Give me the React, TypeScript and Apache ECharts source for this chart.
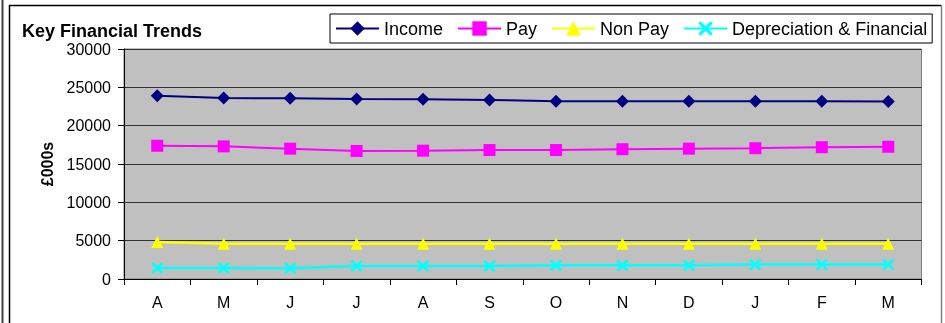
import React, { useEffect, useRef } from "react";
import * as echarts from "echarts";

const categories = ["A", "M", "J", "J", "A", "S", "O", "N", "D", "J", "F", "M"];
const income = [23900, 23600, 23560, 23480, 23430, 23350, 23200, 23200, 23200, 23200, 23200, 23150];
const pay = [17380, 17300, 17000, 16700, 16740, 16820, 16820, 16930, 17000, 17060, 17190, 17250];
const nonPay = [4840, 4600, 4600, 4600, 4600, 4600, 4600, 4600, 4600, 4600, 4600, 4600];
const depreciation = [1420, 1420, 1410, 1690, 1690, 1700, 1780, 1780, 1800, 1900, 1900, 1900];
const yTicks = { min: 0, max: 30000, interval: 5000 };

const FONT = "'Liberation Sans', Arial, sans-serif";
const CROSS = "path://M1.5,0 L5,3.5 L8.5,0 L10,1.5 L6.5,5 L10,8.5 L8.5,10 L5,6.5 L1.5,10 L0,8.5 L3.5,5 L0,1.5 Z";

export default function App() {
  const ref = useRef<HTMLDivElement>(null);
  useEffect(() => {
    document.body.style.margin = "0";
    const chart = echarts.init(ref.current!, null, { renderer: "svg" });
    const mk = (name: string, data: number[], color: string, symbol: string, size: number | number[], width: number) => ({
      name,
      type: "line",
      data,
      symbol,
      symbolSize: size,
      lineStyle: { color, width },
      itemStyle: { color },
      emphasis: { disabled: true },
    });
    chart.setOption({
      animation: false,
      graphic: [
        { type: "line", shape: { x1: 2.5, y1: 0, x2: 2.5, y2: 323 }, style: { stroke: "#404040", lineWidth: 2 } },
        { type: "line", shape: { x1: 9, y1: 5.5, x2: 941, y2: 5.5 }, style: { stroke: "#000", lineWidth: 1.5 } },
        { type: "line", shape: { x1: 9.5, y1: 5, x2: 9.5, y2: 323 }, style: { stroke: "#000", lineWidth: 1.5 } },
        { type: "line", shape: { x1: 941.5, y1: 5, x2: 941.5, y2: 323 }, style: { stroke: "#808080", lineWidth: 1.5 } },
        {
          type: "text",
          x: 22,
          y: 30.5,
          style: { text: "Key Financial Trends", font: `bold 18px ${FONT}`, fill: "#000", verticalAlign: "middle" },
        },
      ],
      legend: {
        left: 330,
        top: 14,
        padding: [5.5, 5],
        itemGap: 14,
        itemWidth: 43,
        itemHeight: 18,
        backgroundColor: "#fff",
        borderColor: "#000",
        borderWidth: 1,
        textStyle: { fontSize: 18, fontFamily: FONT, color: "#000" },
        selectedMode: false,
      },
      grid: {
        left: 124,
        right: 23.5,
        top: 49,
        bottom: 44,
        show: true,
        backgroundColor: "#C0C0C0",
        borderColor: "#808080",
        borderWidth: 1,
      },
      xAxis: {
        type: "category",
        data: categories,
        boundaryGap: true,
        axisLine: { lineStyle: { color: "#000", width: 1 } },
        axisTick: { show: true, length: 6, interval: 0, lineStyle: { color: "#000" } },
        axisLabel: { fontSize: 16, fontFamily: FONT, color: "#000", margin: 15, interval: 0 },
        splitLine: { show: false },
      },
      yAxis: {
        type: "value",
        min: yTicks.min,
        max: yTicks.max,
        interval: yTicks.interval,
        name: "£000s",
        nameLocation: "middle",
        nameRotate: 90,
        nameGap: 67,
        nameTextStyle: { fontSize: 16, fontWeight: "bold", fontFamily: FONT, color: "#000" },
        axisLine: { show: true, lineStyle: { color: "#000", width: 1 } },
        axisTick: { show: true, length: 6, lineStyle: { color: "#000" } },
        axisLabel: { fontSize: 16, fontFamily: FONT, color: "#000", margin: 13, formatter: (v: number) => String(v) },
        splitLine: { show: true, lineStyle: { color: "#333", width: 1 } },
      },
      series: [
        mk("Income", income, "#000080", "diamond", 13, 2),
        mk("Pay", pay, "#FF00FF", "rect", 12, 2),
        mk("Non Pay", nonPay, "#FFFF00", "triangle", 12, 2.5),
        mk("Depreciation & Financial", depreciation, "#00FFFF", CROSS, 12, 2.5),
      ],
    });
    return () => chart.dispose();
  }, []);
  return <div ref={ref} style={{ position: "fixed", left: 0, top: 0, width: 945, height: 323 }} />;
}
